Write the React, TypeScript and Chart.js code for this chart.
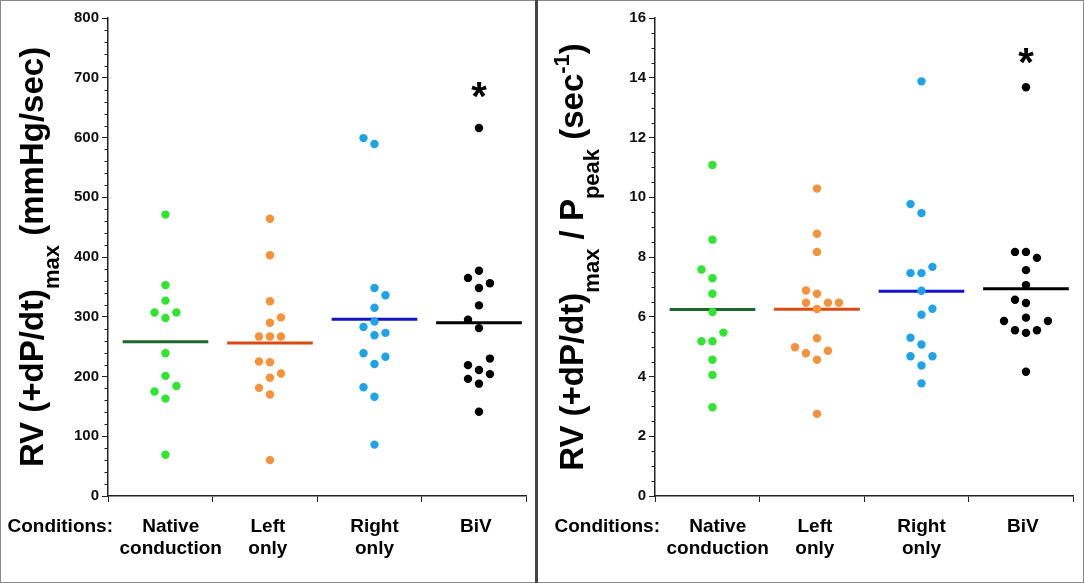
import React, { useEffect, useRef } from "react";
import { Chart, registerables } from "chart.js";

Chart.register(...registerables);

// ---------- shared category data ----------
const CATEGORY_LINES: string[][] = [["Native", "conduction"], ["Left", "only"], ["Right", "only"], ["BiV"]];
const CONDITIONS_LABEL = "Conditions:";
const DOT_COLORS = ["#2fe52f", "#f7913a", "#1ea3e9", "#000000"];
const MEAN_COLORS = ["#1b6a2b", "#dc4a14", "#1414c4", "#000000"];

// ---------- Panel A: RV (+dP/dt)max, mmHg/sec ----------
const dpdtNative = [471, 353, 327, 307, 307, 298, 239, 201, 184, 175, 163, 69];
const dpdtNativeJitter = [0, 0, 0, -1, 1, 0, 0, 0, 1, -1, 0, 0];
const dpdtLeft = [464, 403, 326, 299, 290, 267, 267, 267, 225, 224, 205, 198, 181, 170, 60];
const dpdtLeftJitter = [0, 0, 0, 1, 0, -1, 0, 1, -1, 0, 1, 0, -1, 0, 0];
const dpdtRight = [599, 589, 348, 336, 315, 292, 283, 273, 269, 239, 233, 221, 182, 166, 86];
const dpdtRightJitter = [-1, 0, 0, 1, 0, 0, -1, 1, 0, -1, 1, 0, -1, 0, 0];
const dpdtBiv = [616, 377, 365, 356, 348, 319, 295, 281, 230, 219, 211, 204, 196, 188, 141];
const dpdtBivJitter = [0, 0, -1, 1, 0, 0, -1, 0, 1, -1, 0, 1, -1, 0, 0];
const dpdtMeans = [258, 256, 296, 290];
const dpdtStar = 676;
const dpdtAxis = { max: 800, major: 100, minor: 20 };
const dpdtTitle = [
  { text: "RV (+dP/dt)", kind: "main" },
  { text: "max", kind: "sub" },
  { text: " (mmHg/sec)", kind: "main" },
];

// ---------- Panel B: RV (+dP/dt)max / Ppeak, sec^-1 ----------
const ratioNative = [11.08, 8.58, 7.58, 7.29, 6.77, 6.16, 5.47, 5.18, 5.18, 4.56, 4.05, 2.97];
const ratioNativeJitter = [0, 0, -1, 0, 0, 0, 1, -1, 0, 0, 0, 0];
const ratioLeft = [10.29, 8.78, 8.17, 6.88, 6.77, 6.47, 6.47, 6.47, 6.26, 5.28, 4.98, 4.86, 4.78, 4.56, 2.75];
const ratioLeftJitter = [0, 0, 0, -1, 0, -1, 1, 2, 0, 0, -2, 1, -1, 0, 0];
const ratioRight = [13.88, 9.77, 9.47, 7.67, 7.46, 7.46, 6.87, 6.27, 6.07, 5.3, 5.07, 4.68, 4.68, 4.37, 3.77];
const ratioRightJitter = [0, -1, 0, 1, -1, 0, 0, 1, 0, -1, 0, -1, 1, 0, 0];
const ratioBiv = [13.68, 8.17, 8.17, 7.97, 7.56, 7.06, 6.57, 6.46, 5.97, 5.86, 5.86, 5.55, 5.55, 5.46, 4.16];
const ratioBivJitter = [0, -1, 0, 1, 0, 0, -1, 0, 0, -2, 2, -1, 1, 0, 0];
const ratioMeans = [6.24, 6.25, 6.85, 6.94];
const ratioStar = 14.65;
const ratioAxis = { max: 16, major: 2, minor: 0.5 };
const ratioTitle = [
  { text: "RV (+dP/dt)", kind: "main" },
  { text: "max", kind: "sub" },
  { text: " / P", kind: "main" },
  { text: "peak", kind: "sub" },
  { text: " (sec", kind: "main" },
  { text: "-1", kind: "sup" },
  { text: ")", kind: "main" },
];

// category placement on the linear x axis (0..4, one unit per condition)
const CAT_POS = [0.55, 1.55, 2.55, 3.55];
const LABEL_POS = [0.6, 1.53, 2.55, 3.52];
const JITTER_STEP = 0.105;
const MEAN_HALF = 0.41;

const FONT = '"Liberation Sans", Arial, Helvetica, sans-serif';

type Seg = { text: string; kind: string };
type PanelSpec = {
  values: number[][];
  jitter: number[][];
  means: number[];
  star: number;
  axis: { max: number; major: number; minor: number };
  title: Seg[];
  width: number;
  plotLeft: number;
  plotRight: number;
  titleBaseline: number;
};

const PLOT_TOP = 18;
const PLOT_BOTTOM = 496;
const HEIGHT = 583;

const decorPlugin = {
  id: "panelDecor",
  afterDraw(chart: any, _args: any, opts: any) {
    const { ctx, chartArea } = chart;
    const x = chart.scales.x;
    const y = chart.scales.y;
    const spec: PanelSpec = opts.spec;
    ctx.save();
    // minor ticks
    ctx.strokeStyle = "#222";
    ctx.lineWidth = 1;
    const n = Math.round(spec.axis.max / spec.axis.minor);
    const per = Math.round(spec.axis.major / spec.axis.minor);
    for (let k = 0; k <= n; k++) {
      if (k % per === 0) continue;
      const py = Math.round(y.getPixelForValue(k * spec.axis.minor)) + 0.5;
      ctx.beginPath();
      ctx.moveTo(chartArea.left - 3.5, py);
      ctx.lineTo(chartArea.left, py);
      ctx.stroke();
    }
    // category labels
    ctx.fillStyle = "#000";
    ctx.font = `bold 19px ${FONT}`;
    ctx.textBaseline = "alphabetic";
    ctx.textAlign = "center";
    CATEGORY_LINES.forEach((lines, i) => {
      lines.forEach((t, j) => {
        ctx.fillText(t, x.getPixelForValue(LABEL_POS[i]), chartArea.bottom + 36 + j * 22);
      });
    });
    ctx.textAlign = "right";
    ctx.fillText(CONDITIONS_LABEL, chartArea.left + 5, chartArea.bottom + 36);
    // significance star
    const starSize = 40;
    ctx.font = `bold ${starSize}px ${FONT}`;
    ctx.textAlign = "center";
    ctx.fillText("*", x.getPixelForValue(CAT_POS[3]), y.getPixelForValue(spec.star) + starSize * 0.45);
    // y title (rotated, with sub/superscripts)
    const mainSize = 33;
    const subSize = 22;
    const cy = (chartArea.top + chartArea.bottom) / 2;
    ctx.translate(spec.titleBaseline, cy);
    ctx.rotate(-Math.PI / 2);
    let total = 0;
    spec.title.forEach((s) => {
      ctx.font = `bold ${s.kind === "main" ? mainSize : subSize}px ${FONT}`;
      total += ctx.measureText(s.text).width;
    });
    let cx = -total / 2;
    ctx.textAlign = "left";
    spec.title.forEach((s) => {
      ctx.font = `bold ${s.kind === "main" ? mainSize : subSize}px ${FONT}`;
      const dy = s.kind === "sub" ? 16 : s.kind === "sup" ? -14 : 0;
      ctx.fillText(s.text, cx, dy);
      cx += ctx.measureText(s.text).width;
    });
    ctx.restore();
  },
};

function buildConfig(spec: PanelSpec): any {
  const datasets: any[] = [];
  spec.values.forEach((vals, i) => {
    datasets.push({
      data: vals.map((v, k) => ({ x: CAT_POS[i] + spec.jitter[i][k] * JITTER_STEP, y: v })),
      backgroundColor: DOT_COLORS[i],
      borderWidth: 0,
      pointRadius: 4.2,
      pointHoverRadius: 4.2,
    });
  });
  spec.means.forEach((m, i) => {
    datasets.push({
      data: [
        { x: CAT_POS[i] - MEAN_HALF, y: m },
        { x: CAT_POS[i] + MEAN_HALF, y: m },
      ],
      showLine: true,
      borderColor: MEAN_COLORS[i],
      borderWidth: 3,
      pointRadius: 0,
      pointHoverRadius: 0,
      fill: false,
    });
  });
  return {
    type: "scatter",
    data: { datasets },
    plugins: [decorPlugin],
    options: {
      responsive: false,
      animation: false,
      events: [],
      layout: { padding: { top: PLOT_TOP, right: spec.width - spec.plotRight, left: 0, bottom: 0 } },
      plugins: {
        legend: { display: false },
        tooltip: { enabled: false },
        panelDecor: { spec },
      },
      scales: {
        x: {
          type: "linear",
          min: 0,
          max: 4,
          ticks: { stepSize: 1, display: false },
          grid: { drawOnChartArea: false, drawTicks: true, tickLength: 6, color: "#222", lineWidth: 1 },
          border: { display: true, color: "#222", width: 1.5 },
          afterFit: (s: any) => {
            s.height = HEIGHT - PLOT_BOTTOM;
          },
        },
        y: {
          type: "linear",
          min: 0,
          max: spec.axis.max,
          ticks: {
            stepSize: spec.axis.major,
            color: "#111",
            padding: 3,
            font: { family: FONT, size: 15, weight: "bold" },
          },
          grid: { drawOnChartArea: false, drawTicks: true, tickLength: 6, color: "#222", lineWidth: 1 },
          border: { display: true, color: "#222", width: 1.5 },
          afterFit: (s: any) => {
            s.width = spec.plotLeft;
          },
        },
      },
    },
  };
}

function Panel({ spec, left }: { spec: PanelSpec; left: number }) {
  const ref = useRef<HTMLCanvasElement | null>(null);
  useEffect(() => {
    if (!ref.current) return;
    const chart = new Chart(ref.current, buildConfig(spec));
    return () => chart.destroy();
  }, [spec]);
  return (
    <canvas
      ref={ref}
      width={spec.width}
      height={HEIGHT}
      style={{ position: "absolute", left, top: 0, width: spec.width, height: HEIGHT }}
    />
  );
}

const panelA: PanelSpec = {
  values: [dpdtNative, dpdtLeft, dpdtRight, dpdtBiv],
  jitter: [dpdtNativeJitter, dpdtLeftJitter, dpdtRightJitter, dpdtBivJitter],
  means: dpdtMeans,
  star: dpdtStar,
  axis: dpdtAxis,
  title: dpdtTitle,
  width: 535,
  plotLeft: 108,
  plotRight: 526,
  titleBaseline: 43,
};

const panelB: PanelSpec = {
  values: [ratioNative, ratioLeft, ratioRight, ratioBiv],
  jitter: [ratioNativeJitter, ratioLeftJitter, ratioRightJitter, ratioBivJitter],
  means: ratioMeans,
  star: ratioStar,
  axis: ratioAxis,
  title: ratioTitle,
  width: 546,
  plotLeft: 117,
  plotRight: 535,
  titleBaseline: 45,
};

export default function App() {
  return (
    <div style={{ position: "fixed", left: 0, top: 0, width: 1084, height: HEIGHT, background: "#fff", overflow: "hidden" }}>
      <Panel spec={panelA} left={0} />
      <Panel spec={panelB} left={538} />
      <div style={{ position: "absolute", left: 0, top: 0, width: 1084, height: HEIGHT, boxSizing: "border-box", border: "1px solid #888", pointerEvents: "none" }} />
      <div style={{ position: "absolute", left: 535, top: 0, width: 3, height: HEIGHT, background: "#444" }} />
    </div>
  );
}
